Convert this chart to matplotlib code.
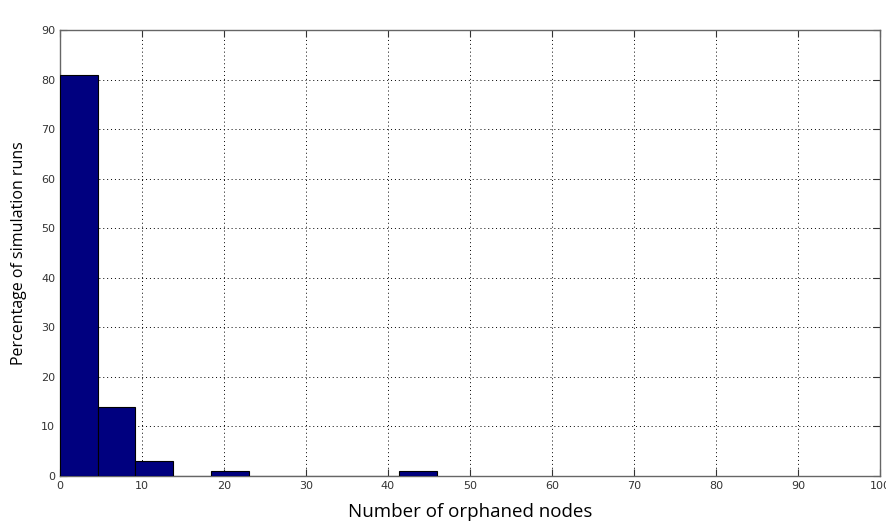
import numpy as np
import matplotlib
matplotlib.use('Agg')
import matplotlib.pyplot as plt

# histogram of orphaned nodes (10 bins over 0..46)
bin_edges = [0, 4.6, 9.2, 13.8, 18.4, 23.0, 27.6, 32.2, 36.8, 41.4, 46.0]
percent_runs = [81, 14, 3, 0, 1, 0, 0, 0, 0, 1]

x_ticks = list(range(0, 101, 10))
y_ticks = list(range(0, 91, 10))

fig = plt.figure(figsize=(8.87, 5.22), dpi=100)
ax = fig.add_axes([0.0676, 0.0881, 0.9245, 0.8544])

widths = np.diff(bin_edges)
ax.bar(bin_edges[:-1], percent_runs, width=widths, align='edge',
       color='#00007f', edgecolor='black', linewidth=0.8, zorder=3)

ax.set_xlim(0, 100)
ax.set_ylim(0, 90)
ax.set_xticks(x_ticks)
ax.set_yticks(y_ticks)
ax.grid(True, linestyle=(0, (1, 3)), color='black', linewidth=0.7, zorder=0)
ax.tick_params(direction='in', top=True, right=True, length=5,
               labelsize=8, labelcolor='#333333', color='#333333')
for sp in ax.spines.values():
    sp.set_color('#666666')
    sp.set_linewidth(1.0)

ax.set_xlabel('Number of orphaned nodes', fontsize=13.5, family='Open Sans', labelpad=9)
ax.set_ylabel('Percentage of simulation runs', fontsize=11.5, family='Open Sans', labelpad=10)

plt.savefig('out.png', dpi=100)
